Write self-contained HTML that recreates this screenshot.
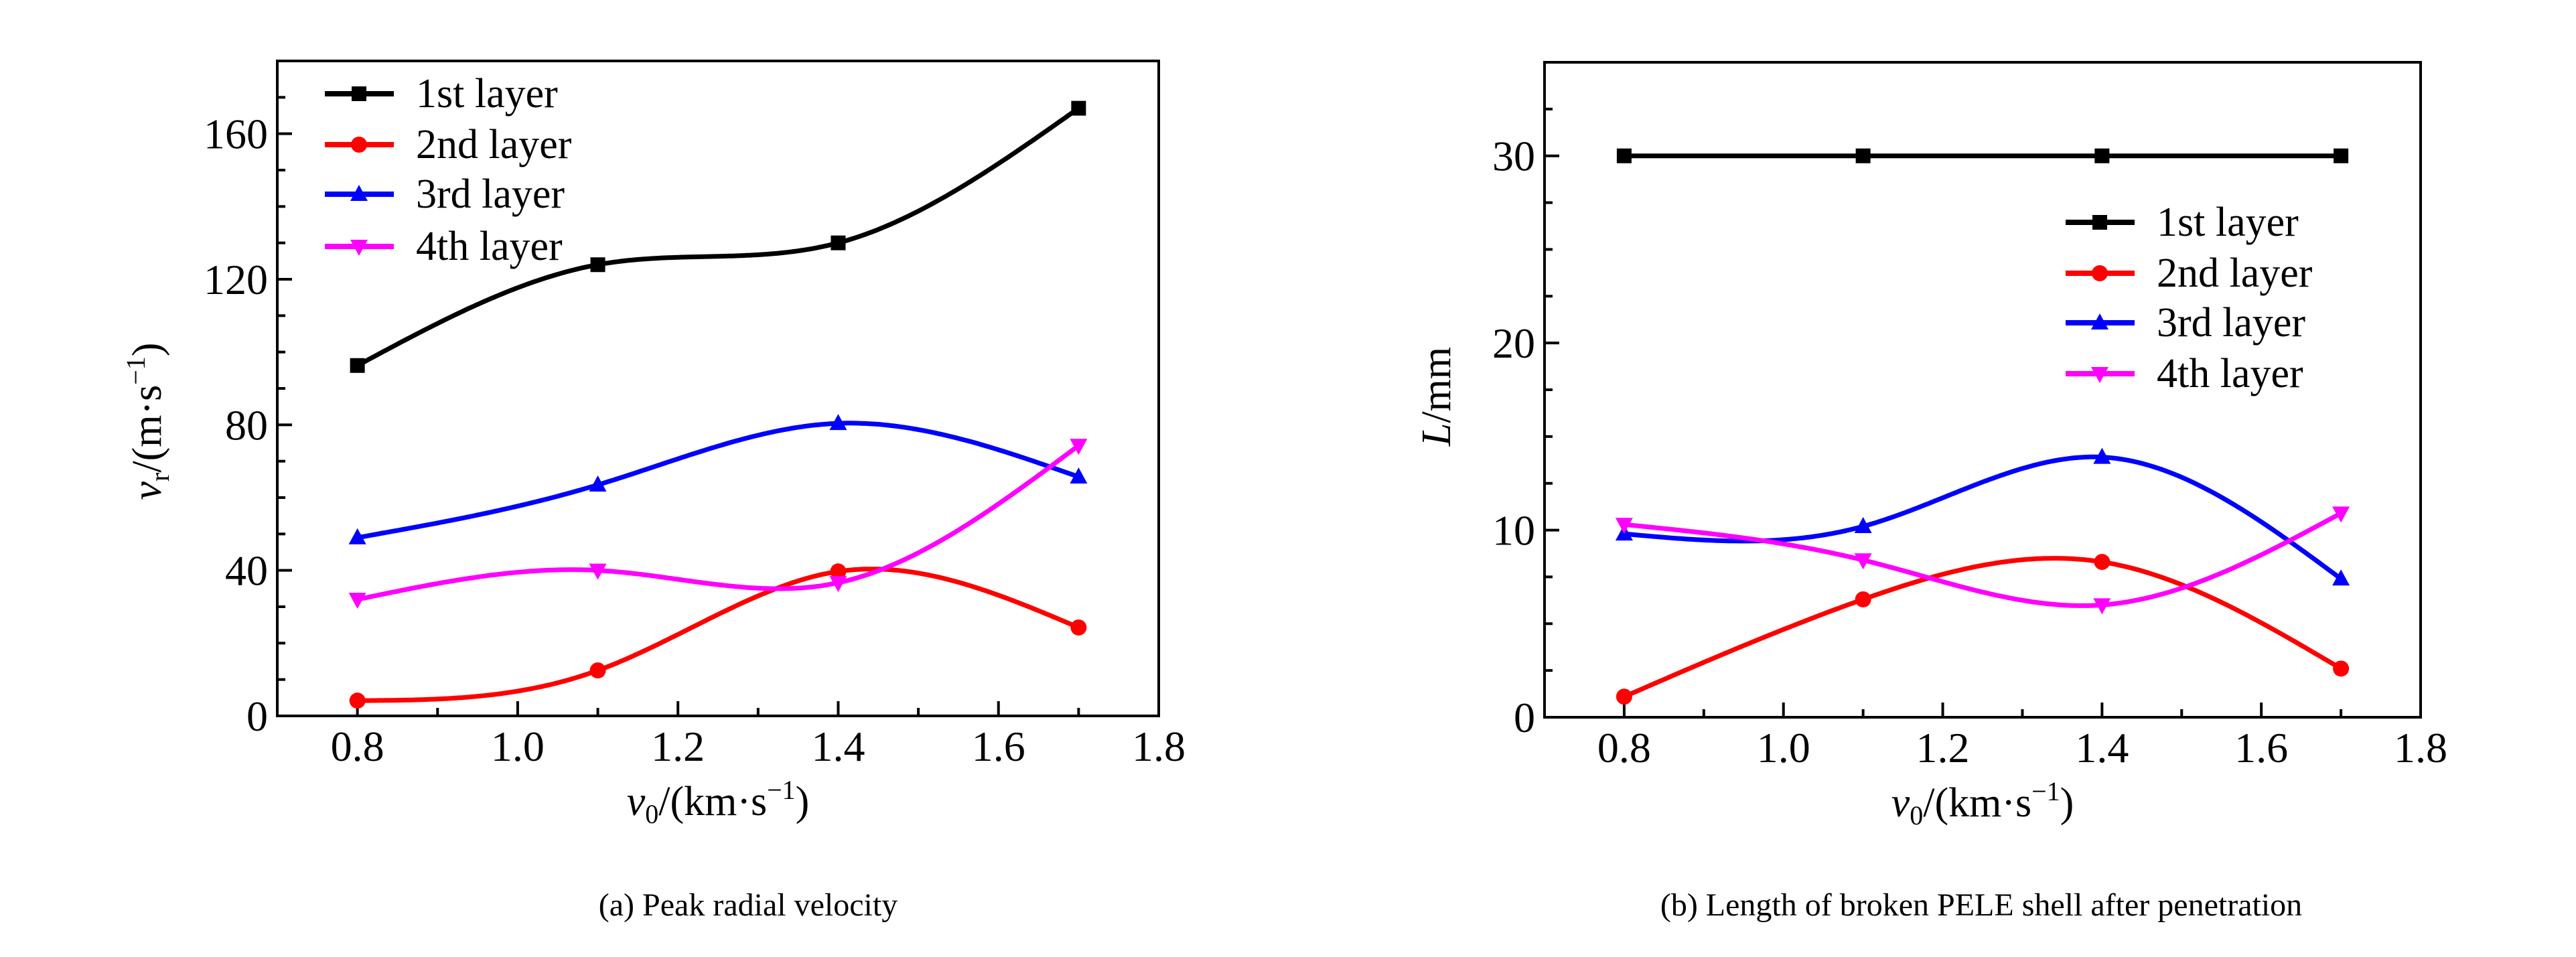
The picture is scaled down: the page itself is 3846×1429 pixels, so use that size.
<!DOCTYPE html>
<html><head><meta charset="utf-8"><style>
html,body{margin:0;padding:0;background:#fff;}
svg{display:block;font-family:"Liberation Serif",serif;}
svg text{font-family:"Liberation Serif",serif;}
</style></head><body>
<svg id="svg" width="3846" height="1429" viewBox="0 0 3846 1429" xmlns="http://www.w3.org/2000/svg" font-family="Liberation Serif, serif"></svg>
<script>
const xCats = [0.8, 1.1, 1.4, 1.7];
const seriesNames = ["1st layer", "2nd layer", "3rd layer", "4th layer"];
const seriesColors = ["#000000", "#ff0000", "#0000ff", "#ff00ff"];
const seriesMarkers = ["square", "circle", "triangle", "downtriangle"];
const velL1 = [96.3, 124, 130, 167];
const velL2 = [4.2, 12.5, 39.7, 24.3];
const velL3 = [49, 63.5, 80.4, 65.7];
const velL4 = [32, 40, 36.6, 74.3];
const lenL1 = [30, 30, 30, 30];
const lenL2 = [1.1, 6.3, 8.3, 2.6];
const lenL3 = [9.8, 10.2, 13.9, 7.4];
const lenL4 = [10.3, 8.4, 6.0, 10.9];
const xTickLabels = ["0.8", "1.0", "1.2", "1.4", "1.6", "1.8"];
const velTickLabels = ["0", "40", "80", "120", "160"];
const lenTickLabels = ["0", "10", "20", "30"];

const NS = "http://www.w3.org/2000/svg";
const svg = document.getElementById("svg");
const FF = "'Liberation Serif', serif";
function mk(tag, attrs, parent) {
  const e = document.createElementNS(NS, tag);
  for (const k in attrs) e.setAttribute(k, attrs[k]);
  if (tag === "text") e.setAttribute("style", "font-family:" + FF);
  (parent || svg).appendChild(e);
  return e;
}
function spline(xs, ys) {
  const n = xs.length, h = [], al = [], l = [1], mu = [0], z = [0], c = new Array(n).fill(0), b = [], d = [];
  for (let i = 0; i < n - 1; i++) h.push(xs[i + 1] - xs[i]);
  for (let i = 1; i < n - 1; i++) al[i] = 3 / h[i] * (ys[i + 1] - ys[i]) - 3 / h[i - 1] * (ys[i] - ys[i - 1]);
  for (let i = 1; i < n - 1; i++) { l[i] = 2 * (xs[i + 1] - xs[i - 1]) - h[i - 1] * mu[i - 1]; mu[i] = h[i] / l[i]; z[i] = (al[i] - h[i - 1] * z[i - 1]) / l[i]; }
  for (let j = n - 2; j >= 0; j--) { c[j] = z[j] - mu[j] * c[j + 1]; b[j] = (ys[j + 1] - ys[j]) / h[j] - h[j] * (c[j + 1] + 2 * c[j]) / 3; d[j] = (c[j + 1] - c[j]) / (3 * h[j]); }
  return function (x) {
    let j = 0; while (j < n - 2 && x > xs[j + 1]) j++;
    const t = x - xs[j];
    return ys[j] + b[j] * t + c[j] * t * t + d[j] * t * t * t;
  };
}
function marker(g, type, x, y, color) {
  const s = 11;
  let e;
  if (type === "square") e = mk("rect", {x: x - s, y: y - s, width: 2 * s, height: 2 * s, fill: color}, g);
  else if (type === "circle") e = mk("circle", {cx: x, cy: y, r: s + 1, fill: color}, g);
  else if (type === "triangle") e = mk("polygon", {points: `${x},${y - 14} ${x - 13},${y + 10} ${x + 13},${y + 10}`, fill: color}, g);
  else e = mk("polygon", {points: `${x},${y + 14} ${x - 13},${y - 10} ${x + 13},${y - 10}`, fill: color}, g);
  
  
}

function chart(cfg) {
  const {L, R, T, B, yMax, minorStep, majorStep, series, yLabels, name} = cfg;
  const g = mk("g", {});
  
  
  const xS = v => L + (v - 0.7) / 1.1 * (R - L);
  const yS = v => B - v / yMax * (B - T);
  for (let k = 0; k <= 10; k++) {
    const v = 0.8 + k * 0.1; if (v > 1.75) break;
    const x = xS(v), len = (k % 2 === 0) ? 22 : 12;
    const t = mk("line", {x1: x, y1: B, x2: x, y2: B - len, stroke: "#000", "stroke-width": 4}, g);
    
    
  }
  xTickLabels.forEach((lab, i) => {
    const v = 0.8 + i * 0.2;
    const t = mk("text", {x: xS(v), y: B + 67, "font-size": 64, "text-anchor": "middle"}, g);
    t.textContent = lab;
    
    
  });
  for (let v = minorStep; v < yMax; v += minorStep) {
    const isMaj = Math.abs(v / majorStep - Math.round(v / majorStep)) < 1e-6;
    const t = mk("line", {x1: L, y1: yS(v), x2: L + (isMaj ? 22 : 12), y2: yS(v), stroke: "#000", "stroke-width": 4}, g);
    
    
  }
  yLabels.forEach((lab, i) => {
    const t = mk("text", {x: L - 14, y: yS(i * majorStep) + 22, "font-size": 64, "text-anchor": "end"}, g);
    t.textContent = lab;
    
    
  });
  series.forEach((vals, si) => {
    const f = spline(xCats, vals);
    let d = "";
    for (let i = 0; i <= 200; i++) {
      const xv = xCats[0] + (xCats[3] - xCats[0]) * i / 200;
      d += (i ? "L" : "M") + xS(xv).toFixed(1) + "," + yS(f(xv)).toFixed(1);
    }
    const p = mk("path", {d: d, fill: "none", stroke: seriesColors[si], "stroke-width": 7, "stroke-linejoin": "round"}, g);
    
    
    vals.forEach((v, i) => marker(g, seriesMarkers[si], xS(xCats[i]), yS(v), seriesColors[si]));
  });
  const fr = mk("rect", {x: L, y: T, width: R - L, height: B - T, fill: "none", stroke: "#000", "stroke-width": 4}, g);
  
  
  const lg = mk("g", {}, g);
  
  
  cfg.legRows.forEach((ry, si) => {
    const e = mk("g", {}, lg);
    
    
    mk("line", {x1: cfg.legX, y1: ry, x2: cfg.legX + 103, y2: ry, stroke: seriesColors[si], "stroke-width": 8}, e);
    marker(e, seriesMarkers[si], cfg.legX + 51, ry, seriesColors[si]);
    const t = mk("text", {x: cfg.legX + 136, y: ry + 20, "font-size": 62}, e);
    t.textContent = seriesNames[si];
  });
  const xt = mk("text", {x: (L + R) / 2, y: B + 148, "font-size": 62, "text-anchor": "middle"}, g);
  
  
  xt.innerHTML = '<tspan font-style="italic">v</tspan><tspan font-size="40" dy="12">0</tspan><tspan dy="-12">/(km·s</tspan><tspan font-size="40" dy="-24">−1</tspan><tspan dy="24">)</tspan>';
  return g;
}

chart({L: 414, R: 1730, T: 91, B: 1069, yMax: 180, minorStep: 10, majorStep: 40,
  series: [velL1, velL2, velL3, velL4], yLabels: velTickLabels, name: "chart-peak-radial-velocity",
  legX: 485, legRows: [140, 216, 290, 368]});
chart({L: 2306, R: 3614, T: 93, B: 1071, yMax: 35, minorStep: 2.5, majorStep: 10,
  series: [lenL1, lenL2, lenL3, lenL4], yLabels: lenTickLabels, name: "chart-broken-shell-length",
  legX: 3084, legRows: [332, 408, 482, 558]});

const yt1 = mk("text", {x: 0, y: 0, "font-size": 62, "text-anchor": "middle", transform: "translate(240,629) rotate(-90)"});


yt1.innerHTML = '<tspan font-style="italic">v</tspan><tspan font-size="40" dy="12">r</tspan><tspan dy="-12">/(m·s</tspan><tspan font-size="40" dy="-24">−1</tspan><tspan dy="24">)</tspan>';
const yt2 = mk("text", {x: 0, y: 0, "font-size": 62, "text-anchor": "middle", transform: "translate(2165,592) rotate(-90)"});


yt2.innerHTML = '<tspan font-style="italic">L</tspan>/mm';

const c1 = mk("text", {x: 1117, y: 1367, "font-size": 48, "text-anchor": "middle"});
c1.textContent = "(a) Peak radial velocity";


const c2 = mk("text", {x: 2958, y: 1367, "font-size": 48, "text-anchor": "middle"});
c2.textContent = "(b) Length of broken PELE shell after penetration";


</script>
</body></html>
